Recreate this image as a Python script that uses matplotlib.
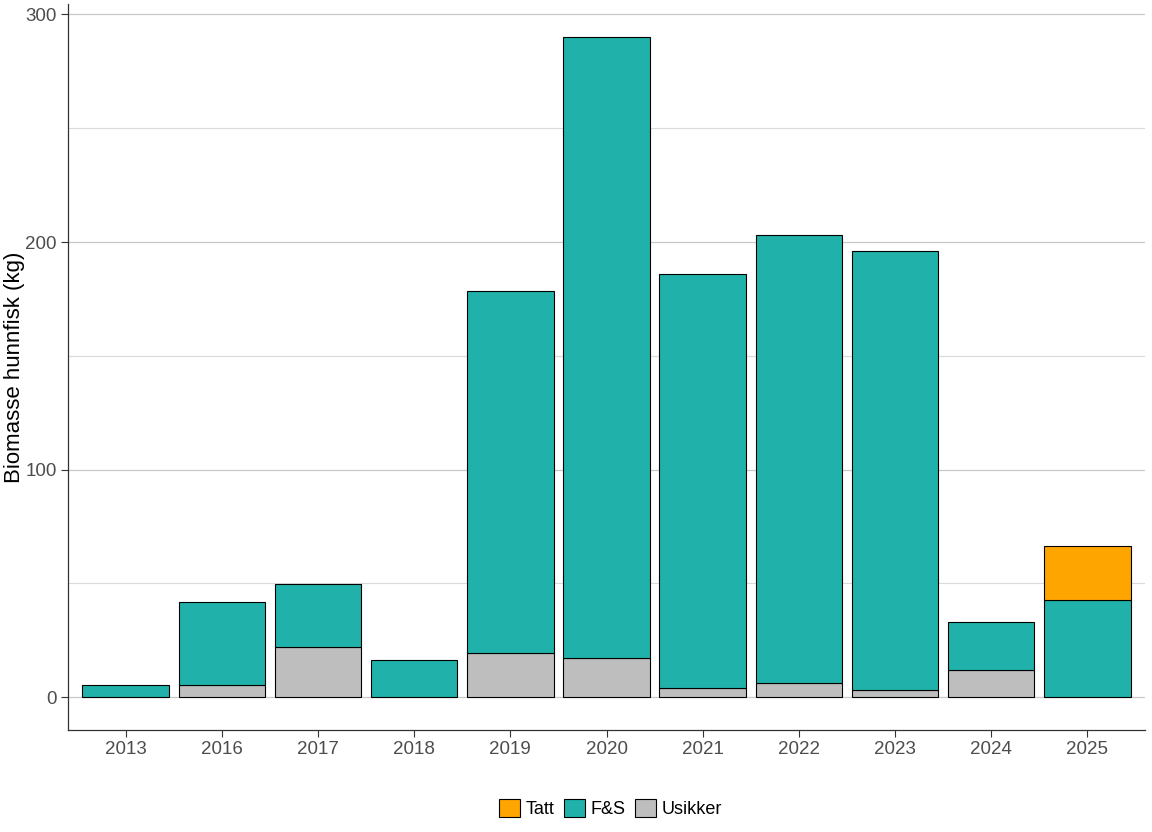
import numpy as np
import matplotlib.pyplot as plt
from matplotlib.patches import Patch

plt.rcParams['font.family'] = ['Liberation Sans', 'DejaVu Sans']

# data
years = ['2013', '2016', '2017', '2018', '2019', '2020', '2021', '2022', '2023', '2024', '2025']
usikker = [0, 5.3, 22.0, 0, 19.4, 17.2, 4.0, 6.2, 3.1, 11.9, 0]
fs = [5.3, 36.6, 27.8, 16.3, 159.0, 272.7, 181.9, 196.8, 192.9, 21.1, 42.7]
tatt = [0, 0, 0, 0, 0, 0, 0, 0, 0, 0, 23.8]

c_tatt = '#FFA500'
c_fs = '#20B2AA'
c_usikker = '#BEBEBE'

fig = plt.figure(figsize=(11.52, 8.32), dpi=100)
ax = fig.add_axes([0.059, 0.1226, 0.935, 0.872])

x = np.arange(1, len(years) + 1)
usikker = np.array(usikker)
fs = np.array(fs)
tatt = np.array(tatt)
kw = dict(width=0.9, edgecolor='black', linewidth=0.8, zorder=3)
for vals, bottom, col in [(usikker, 0, c_usikker), (fs, usikker, c_fs),
                          (tatt, usikker + fs, c_tatt)]:
    m = vals > 0
    ax.bar(x[m], vals[m], bottom=(bottom[m] if np.ndim(bottom) else 0),
           color=col, **kw)

total = usikker + fs + tatt
ymax = total.max()
ax.set_ylim(-0.05 * ymax, ymax * 1.05)
ax.set_xlim(0.4, len(years) + 0.6)
ax.set_xticks(x)
ax.set_xticklabels(years)
ax.set_yticks([0, 100, 200, 300])
ax.set_yticks([50, 150, 250], minor=True)
ax.grid(axis='y', which='major', color='#C8C8C8', linewidth=0.9, zorder=0)
ax.grid(axis='y', which='minor', color='#DADADA', linewidth=0.8, zorder=0)
ax.tick_params(axis='both', which='major', labelsize=13.5, labelcolor='#4D4D4D',
               color='#333333', length=5, pad=3)
ax.tick_params(axis='y', which='minor', length=0)
for s in ['top', 'right']:
    ax.spines[s].set_visible(False)
for s in ['left', 'bottom']:
    ax.spines[s].set_color('#333333')
    ax.spines[s].set_linewidth(0.9)
ax.set_ylabel('Biomasse hunnfisk (kg)', fontsize=16, color='black',
              va='center')
ax.yaxis.set_label_coords(-0.05, 0.5)

handles = [Patch(facecolor=c_tatt, edgecolor='black', linewidth=0.8, label='Tatt'),
           Patch(facecolor=c_fs, edgecolor='black', linewidth=0.8, label='F&S'),
           Patch(facecolor=c_usikker, edgecolor='black', linewidth=0.8, label='Usikker')]
fig.legend(handles=handles, loc='center', bbox_to_anchor=(0.53, 0.028), ncol=3,
           frameon=False, fontsize=13, handlelength=1.15, handleheight=1.15,
           handletextpad=0.35, columnspacing=0.5)

fig.savefig('out.png', dpi=100)
